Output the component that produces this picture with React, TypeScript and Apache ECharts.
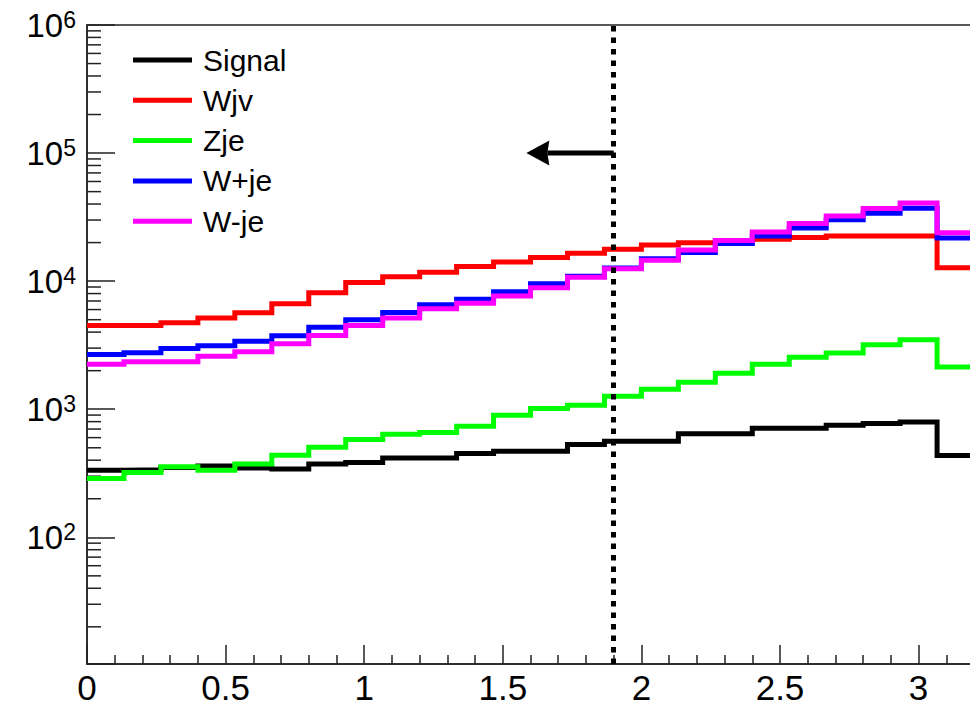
import React, { useEffect, useRef } from "react";
import * as echarts from "echarts";

// ---- data ----
const binWidth = 4 / 30; // histogram bin width (bins start at 0)
const seriesNames = ["Signal", "Wjv", "Zje", "W+je", "W-je"];
const seriesColors = ["#000000", "#ff0000", "#00ff00", "#0000ff", "#ff00ff"];

const signal = [334, 337, 350, 361, 347, 341, 373, 384, 417, 417, 451, 470, 470, 530, 563, 563, 644, 644, 711, 711, 750, 773, 796, 435];
const wjv = [4510, 4510, 4735, 5145, 5665, 6655, 8110, 9755, 10810, 11740, 13000, 14090, 15290, 16510, 17740, 19190, 19900, 20620, 21220, 21880, 22550, 22550, 22550, 12700];
const zje = [288, 321, 355, 334, 373, 438, 505, 580, 638, 658, 737, 897, 1012, 1074, 1262, 1431, 1622, 1906, 2240, 2541, 2754, 3190, 3490, 2135];
const wplusje = [2680, 2765, 2985, 3125, 3397, 3750, 4365, 5000, 5700, 6545, 7230, 8260, 9530, 10910, 12650, 14930, 16710, 19650, 22550, 26050, 30120, 33960, 37070, 21770];
const wminusje = [2240, 2350, 2350, 2588, 2805, 3250, 3770, 4510, 5145, 6085, 6730, 7660, 8870, 10715, 12475, 14560, 17490, 20740, 24230, 28130, 32290, 36960, 40840, 23850];

// cut line and arrow (start x, tip x, y)
const cutX = 1.9;
const arrowY = 1e5;
const arrowTipX = 1.585;

const xMin = 0;
const xMax = 3.5;
const xInterval = 0.5;
const xLabelMax = 3.2;
const yMin = 10.25;
const yMax = 1e6;
const minorMultipliers = [2, 3, 4, 5, 6, 7, 8, 9];
const decadeBases = [10, 100, 1000, 10000, 100000];

const allSeries = [signal, wjv, zje, wplusje, wminusje];

function toSteps(values: number[]) {
  const pts: number[][] = values.map((v, i) => [i * binWidth, v]);
  pts.push([values.length * binWidth, values[values.length - 1]]);
  return pts;
}

const minorTickValues: number[][] = [];
decadeBases.forEach((b) =>
  minorMultipliers.forEach((m) => {
    const v = b * m;
    if (v >= yMin && v <= yMax) minorTickValues.push([0, v]);
  })
);

const FONT = "'Liberation Sans', Arial, Helvetica, sans-serif";
const AXIS_COLOR = "#222";

export default function App() {
  const ref = useRef<HTMLDivElement>(null);
  useEffect(() => {
    if (!ref.current) return;
    const chart = echarts.init(ref.current, null, { renderer: "svg" });
    const histSeries = allSeries.map((vals, i) => ({
      name: seriesNames[i],
      type: "line",
      step: "end",
      data: toSteps(vals),
      symbol: "none",
      showSymbol: false,
      color: seriesColors[i],
      itemStyle: { color: seriesColors[i] },
      lineStyle: { color: seriesColors[i], width: 5, join: "miter", cap: "butt" },
      silent: true,
    }));
    chart.setOption({
      animation: false,
      backgroundColor: "#fff",
      grid: {
        left: 87,
        top: 25,
        width: 970.2,
        height: 639,
        show: true,
        borderColor: AXIS_COLOR,
        borderWidth: 1.5,
        backgroundColor: "transparent",
      },
      legend: {
        data: seriesNames,
        orient: "vertical",
        left: 133,
        top: 45,
        padding: 0,
        icon: "rect",
        itemWidth: 59,
        itemHeight: 5,
        itemGap: 10.3,
        selectedMode: false,
        textStyle: {
          fontSize: 30,
          fontFamily: FONT,
          color: "#000",
          lineHeight: 30,
          padding: [0, 0, 0, 6],
        },
      },
      xAxis: {
        type: "value",
        min: xMin,
        max: xMax,
        interval: xInterval,
        axisLine: { show: true, onZero: false, lineStyle: { color: AXIS_COLOR, width: 1.5 } },
        axisTick: { show: true, inside: true, length: 19, lineStyle: { color: AXIS_COLOR, width: 1.5 } },
        minorTick: { show: true, splitNumber: 5, length: 9, lineStyle: { color: AXIS_COLOR, width: 1.5 } },
        splitLine: { show: false },
        axisLabel: {
          margin: 6,
          fontSize: 35,
          fontFamily: FONT,
          color: "#000",
          formatter: (v: number) => (v > xLabelMax ? "" : String(v)),
        },
      },
      yAxis: {
        type: "log",
        logBase: 10,
        min: yMin,
        max: yMax,
        axisLine: { show: true, lineStyle: { color: AXIS_COLOR, width: 1.5 } },
        axisTick: { show: true, inside: true, length: 28, lineStyle: { color: AXIS_COLOR, width: 1.5 } },
        splitLine: { show: false },
        axisLabel: {
          margin: 11,
          formatter: (v: number) => {
            const l = Math.log10(v);
            const n = Math.round(l);
            if (Math.abs(l - n) > 1e-6) return "";
            return "{b|10}{s|" + n + "}";
          },
          rich: {
            b: { fontSize: 33, fontFamily: FONT, color: "#000", verticalAlign: "bottom" },
            s: { fontSize: 23, fontFamily: FONT, color: "#000", verticalAlign: "top" },
          },
        },
      },
      series: [
        ...histSeries,
        {
          name: "minorTicks",
          type: "custom",
          coordinateSystem: "cartesian2d",
          data: minorTickValues,
          encode: { x: 0, y: 1 },
          silent: true,
          renderItem: (params: any, api: any) => {
            const pt = api.coord([xMin, api.value(1)]);
            return {
              type: "line",
              shape: { x1: pt[0], y1: pt[1], x2: pt[0] + 14, y2: pt[1] },
              style: { stroke: AXIS_COLOR, lineWidth: 1.5 },
            };
          },
        },
        {
          name: "cut",
          type: "line",
          data: [],
          z: 10,
          markLine: {
            silent: true,
            animation: false,
            symbol: ["none", "none"],
            label: { show: false },
            lineStyle: { color: "#000", width: 5, type: [5.5, 6] },
            data: [{ xAxis: cutX }],
          },
        },
        {
          name: "arrow",
          type: "custom",
          coordinateSystem: "cartesian2d",
          data: [[cutX, arrowY, arrowTipX]],
          encode: { x: 0, y: 1 },
          silent: true,
          z: 10,
          renderItem: (params: any, api: any) => {
            const start = api.coord([api.value(0), api.value(1)]);
            const tip = api.coord([api.value(2), api.value(1)]);
            const len = 23;
            const half = 12.5;
            const notch = 21;
            return {
              type: "group",
              children: [
                {
                  type: "line",
                  shape: { x1: start[0], y1: start[1], x2: tip[0] + notch, y2: tip[1] },
                  style: { stroke: "#000", lineWidth: 5 },
                },
                {
                  type: "polygon",
                  shape: {
                    points: [
                      [tip[0], tip[1]],
                      [tip[0] + len, tip[1] - half],
                      [tip[0] + notch, tip[1]],
                      [tip[0] + len, tip[1] + half],
                    ],
                  },
                  style: { fill: "#000" },
                },
              ],
            };
          },
        },
      ],
    });
    return () => chart.dispose();
  }, []);
  return (
    <div
      style={{
        position: "fixed",
        left: 0,
        top: 0,
        width: 970,
        height: 707,
        overflow: "hidden",
        background: "#fff",
      }}
    >
      <div ref={ref} style={{ width: 1100, height: 707 }} />
    </div>
  );
}
